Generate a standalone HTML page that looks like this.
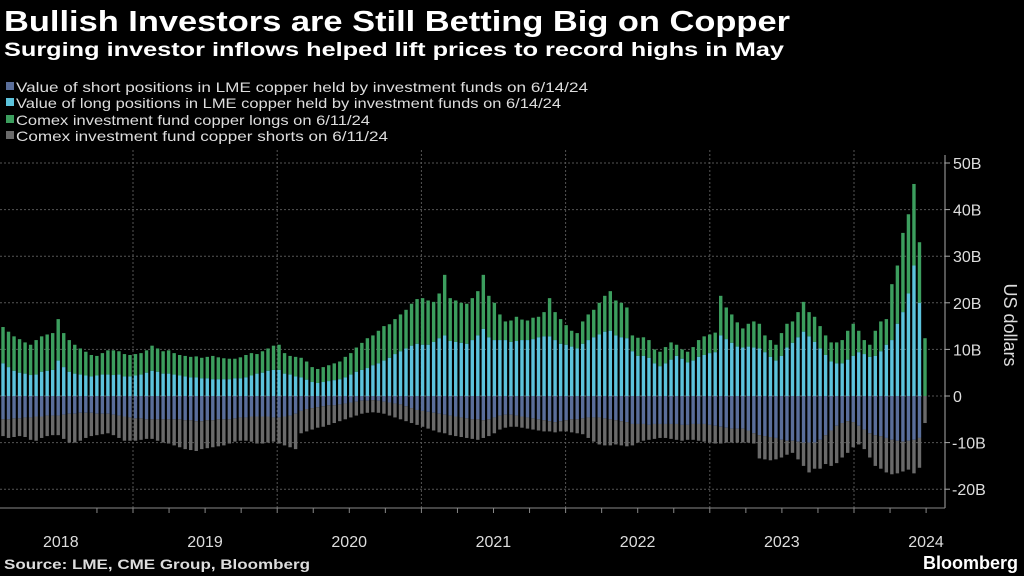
<!DOCTYPE html>
<html><head><meta charset="utf-8">
<style>
html,body{margin:0;padding:0;background:#000;}
body{width:1024px;height:576px;overflow:hidden;position:relative;font-family:"Liberation Sans",sans-serif;color:#fff;}
svg{position:absolute;left:0;top:0;}
</style></head>
<body>
<svg id="chart" width="1024" height="576">
<text x="4" y="31" font-size="29" font-weight="bold" fill="#fff" textLength="786" lengthAdjust="spacingAndGlyphs">Bullish Investors are Still Betting Big on Copper</text>
<text x="4" y="56" font-size="19" font-weight="bold" fill="#fff" textLength="780" lengthAdjust="spacingAndGlyphs">Surging investor inflows helped lift prices to record highs in May</text>
<g font-size="14" fill="#ddd">
<g><rect x="6" y="82" width="8" height="8" fill="#5a6e9a"/><text x="16" y="92" textLength="572" lengthAdjust="spacingAndGlyphs">Value of short positions in LME copper held by investment funds  on 6/14/24</text></g>
<g><rect x="6" y="98" width="8" height="8" fill="#5cc3dc"/><text x="16" y="108" textLength="545" lengthAdjust="spacingAndGlyphs">Value of long positions in LME copper held by investment funds  on 6/14/24</text></g>
<g><rect x="6" y="115" width="8" height="8" fill="#3c9e5e"/><text x="16" y="125" textLength="354" lengthAdjust="spacingAndGlyphs">Comex investment fund copper longs on 6/11/24</text></g>
<g><rect x="6" y="131" width="8" height="8" fill="#6a6a6a"/><text x="16" y="141" textLength="372" lengthAdjust="spacingAndGlyphs">Comex investment fund copper shorts on 6/11/24</text></g>
</g>
<g id="grid"></g>
<g id="bars"></g>
<g id="axes"></g>
<text x="1004" y="325" font-size="18" fill="#ddd" text-anchor="middle" transform="rotate(90 1004 325)">US dollars</text>
<text x="4" y="569" font-size="14" font-weight="bold" fill="#ddd" textLength="306" lengthAdjust="spacingAndGlyphs">Source: LME, CME Group, Bloomberg</text>
<text x="1018" y="569" font-size="18" font-weight="bold" fill="#fff" text-anchor="end">Bloomberg</text>
</svg>
<script>
const totalLong=[14.8,13.8,12.8,12.2,11.5,11,12,12.8,13.2,13.5,
16.5,13.5,12,11,10.2,9.5,8.8,8.6,9.2,9.8,
9.8,9.6,9,8.8,9,9.2,9.8,10.8,10.2,9.6,
9.8,9.2,8.8,8.6,8.4,8.5,8.2,8.4,8.6,8.3,
8.1,8,8,8.3,8.8,9.2,9,9.6,10.2,10.8,
11,9.2,8.6,8.4,8.2,7.4,6.2,5.8,6.2,6.6,
7,7.4,8.4,9.2,10.4,11.4,12.4,13,14,15,
15.4,16.5,17.5,18.5,19.8,20.8,21,20.5,20.2,22,
26,21,20.5,20,19.8,21,22.5,26,21.5,20,
17.5,16,16.2,17,16.4,16.2,16.8,17,18,21,
18,16.5,15.2,14,13.5,16,17.5,18.5,20,21.5,
22.5,20.5,20,19,13,12.5,12.6,12,10,9.5,
10.5,11.5,11,10,9.5,10.5,12,12.8,13.2,13.6,
21.5,19,17.5,15.8,14.5,15.5,16,15.5,13,12,
11,13.5,15.5,16,18,20.2,18,17,15,13,
11.5,11.5,12,14,15.5,14,12,11,14,16,
16.5,24,28,35,39,45.5,33,12.4];
const lmeLong=[7,6.2,5.4,5,4.8,4.5,4.6,5.2,5.4,5.6,
7.6,6.2,5.2,4.8,4.6,4.4,4.2,4.4,4.6,4.6,
4.5,4.6,4.2,4.2,4.4,4.6,5,5.4,5.2,4.8,
4.8,4.6,4.4,4.2,4,4,3.8,3.8,3.6,3.6,
3.6,3.6,3.8,3.8,4,4.4,4.8,5,5.4,5.6,
5.6,4.8,4.6,4.2,4,3.5,3,2.8,3,3.2,
3.4,3.6,4,4.6,5.2,5.6,6,6.6,7,7.6,
8.2,9,9.6,10.2,10.8,11.2,11,11,11.6,12.4,
13,11.8,11.6,11.4,11.2,12,13,14.4,12.6,12,
12,12,11.6,11.8,12,12,12.2,12.6,12.8,12.8,
12,11.2,11,10.6,10.2,11.2,12,12.6,13.2,13.8,
14,13,12.6,12.4,9.6,8.6,8.6,8.2,7,6.4,
7,7.8,8.6,8,7.2,7.6,8.4,8.8,9.2,9.4,
13,12.2,11.4,10.6,10.4,10.6,10.4,10.2,9.4,8.4,
7.6,8.6,10.4,11.4,12.6,13.8,12.8,11.6,10.2,8.8,
7.4,7,7,7.8,8.6,9.4,9,8.4,8.6,9.6,
11,12,15.5,18,22,28,20,0];
const lmeShort=[5,5,4.8,4.8,4.6,4.6,4.4,4.4,4.2,4.2,
4.2,4,3.8,3.8,3.6,3.6,3.6,3.8,3.8,3.8,
4,4.2,4.4,4.6,4.8,4.8,5,5,5,5,
5,5,5,5.2,5.2,5.4,5.4,5.2,5.2,5,
5,5,4.8,4.6,4.6,4.4,4.4,4.4,4.4,4.6,
4.6,4.4,4.2,3.8,3.2,2.8,2.6,2.4,2.2,2,
2,1.8,1.6,1.4,1.2,1,1,0.9,1,1.2,
1.4,1.6,1.8,2.2,2.6,3,3.2,3.4,3.6,3.8,
4,4.2,4.4,4.6,4.8,5,5,5.2,5,4.6,
4.2,4,4,4.2,4.4,4.6,4.8,5,5.2,5.4,
5.6,5.4,5.2,5,5,4.8,4.6,4.6,4.6,4.8,
5,5.2,5.4,5.6,6,6,6,6.2,6,6,
6,6,6,6.2,6.2,6,6,6,6.2,6.4,
6.6,6.8,7,7,7,7.4,8,8.4,8.6,8.8,
9,9.4,9.6,9.6,9.8,10,10,10,9.4,8.4,
7.4,6.4,5.8,5.4,5.6,6.4,7.2,8,8.4,8.6,
9,9.4,9.6,9.8,9.6,9.4,9,0];
const totalShort=[8.6,9,8.8,8.6,8.8,9.4,9.6,9,8.6,8.4,
8.4,9.2,10,10,9.6,9,8.6,8.4,8.2,8,
8.4,9,9.6,9.6,9.6,9.4,9.2,9.2,9.6,10,
10.2,10.6,11,11.4,11.6,11.8,11.4,11.2,11,10.8,
10.6,10.2,9.8,9.6,9.6,9.8,10.2,10.2,10,9.8,
10.2,10.6,11,11.4,8,7.6,7.2,6.8,6.6,6.2,
5.8,5.4,5,4.6,4.2,3.8,3.6,3.5,3.6,3.8,
4.2,4.6,5,5.4,5.8,6.2,6.6,7,7.4,7.8,
8,8.4,8.6,8.8,9,9.2,9.4,9,8.6,8,
7.2,6.8,6.6,6.6,6.8,7,7.2,7.4,7.6,7.6,
7.8,7.6,7.6,7.8,8,8.2,9,9.8,10.4,10.6,
10.6,10.4,10.6,10.8,10.6,10,9.6,9.4,9.2,9,
9,9.2,9.4,9.6,9.4,9.4,9.6,9.8,10,10.2,
10.2,10,10,10,10,10,10.2,13.4,13.6,13.8,
13.6,13.2,12.6,12.2,13.6,15,16.4,15.6,15.6,14.6,
15,14.4,13.2,12.2,11,10.4,11.4,13.2,15,15.6,
16.4,16.8,16.6,16.2,15.8,16.6,15.4,5.8];
const yTicks=[50,40,30,20,10,0,-10,-20];
const yTickLabels=["50B","40B","30B","20B","10B","0","-10B","-20B"];
const years=[2018,2019,2020,2021,2022,2023,2024];

const NS="http://www.w3.org/2000/svg";
const Y0=396, PXB=4.66, AXR=945;
function yS(v){return Y0-v*PXB;}
function xYear(y){return 133+(y-2019)*144.2;}
const startX=3, pitch=(925-3)/(totalLong.length-1), bw=3.4;
function xBar(i){return startX+i*pitch;}
function mk(tag,attrs,parent){const e=document.createElementNS(NS,tag);for(const k in attrs)e.setAttribute(k,attrs[k]);parent.appendChild(e);return e;}
const grid=document.getElementById('grid'),bars=document.getElementById('bars'),axes=document.getElementById('axes');
yTicks.forEach((t,i)=>{
  const l=mk('line',{x1:0,x2:AXR,y1:yS(t),y2:yS(t),stroke:'#555','stroke-width':1,'stroke-dasharray':'2,2'},grid);
  
  
  const tk=mk('line',{x1:AXR,x2:AXR+5,y1:yS(t),y2:yS(t),stroke:'#aaa'},axes);
  
  
  const tx=mk('text',{x:AXR+(t<0?7:8),y:yS(t)+6,'font-size':16,fill:'#ddd'},axes);
  tx.textContent=yTickLabels[i];
  
  
});
for(let y=2019;y<=2024;y++){
  const l=mk('line',{x1:xYear(y),x2:xYear(y),y1:150,y2:508,stroke:'#555','stroke-dasharray':'2,2'},grid);
  
  
}
const cols=['#3c9e5e','#5cc3dc','#5a6e9a','#6a6a6a'];
totalLong.forEach((T,i)=>{
  const x=xBar(i)-bw/2;
  const L=lmeLong[i],S=lmeShort[i],B=totalShort[i];
  const segs=[[T,L,cols[0],'bar-comex-long'],[L,0,cols[1],'bar-lme-long'],[0,-S,cols[2],'bar-lme-short'],[-S,-B,cols[3],'bar-comex-short']];
  segs.forEach(s=>{
    const top=yS(s[0]),bot=yS(s[1]);
    if(bot-top<=0)return;
    const r=mk('rect',{x:x,y:top,width:bw,height:bot-top,fill:s[2]},bars);
    
    
  });
});
const ax=mk('line',{x1:AXR,x2:AXR,y1:155,y2:508,stroke:'#aaa'},axes);


const xa=mk('line',{x1:0,x2:AXR,y1:508,y2:508,stroke:'#888'},axes);


for(let q=-1;q<=24;q++){
  const x=xYear(2019)+q*144.2/4;
  if(x<0||x>AXR)continue;
  const t=mk('line',{x1:x,x2:x,y1:508,y2:513,stroke:'#888'},axes);
  
  
}
years.forEach(y=>{
  const tx=mk('text',{x:xYear(y)+72,y:547,'font-size':16,fill:'#ddd','text-anchor':'middle'},axes);
  tx.textContent=y;
  
  
});
</script>
</body></html>
